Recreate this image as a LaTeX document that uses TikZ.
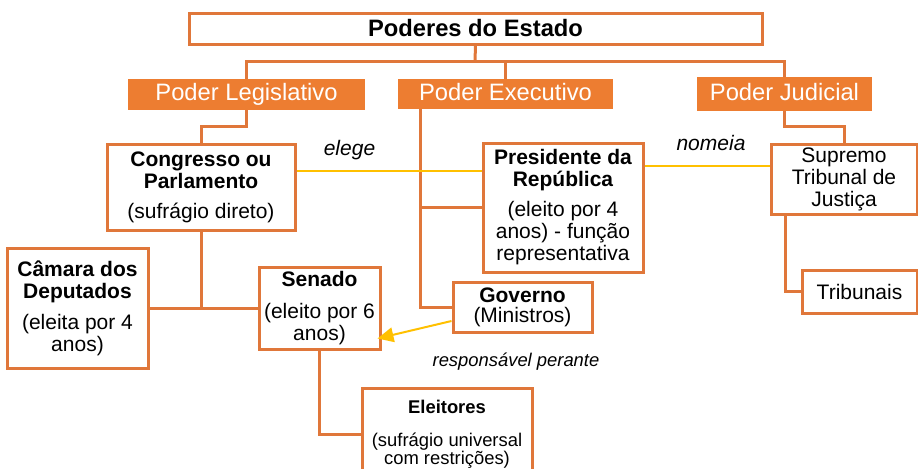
\documentclass[tikz,border=0pt]{standalone}
\usepackage{fontspec}
\setmainfont{Liberation Sans}
\usetikzlibrary{arrows.meta,calc}
\definecolor{ora}{HTML}{E0773A}
\definecolor{orafill}{HTML}{ED7D31}
\definecolor{yel}{HTML}{FFC000}
\newcommand{\mainsize}{\fontsize{15.75}{16.5}\selectfont}
\begin{document}
\begin{tikzpicture}[x=0.75pt,y=-0.75pt,
  box/.style={draw=ora, line width=2.25pt, fill=white, align=center, inner sep=0pt, font=\mainsize},
  power/.style={fill=orafill, text=white, inner sep=0pt, text height=13pt, text depth=3.7pt, font=\fontsize{17.8}{20}\selectfont},
  conn/.style={draw=ora, line width=2.25pt},
  yline/.style={draw=yel, line width=1.5pt},
  lbl/.style={font=\fontsize{15.75}{17}\selectfont\itshape, anchor=base, inner sep=0pt}]
\useasboundingbox (0,0) rectangle (918,468);
% nodes
\node[box, minimum width=429.75pt, minimum height=23.25pt, font=\fontsize{17.8}{20}\selectfont\bfseries] (title) at (475.5,28.5) {Poderes do Estado};
\node[power, minimum width=177.75pt, minimum height=23.25pt] (leg) at (246.5,94.5) {Poder Legislativo};
\node[power, minimum width=161.25pt, minimum height=22.5pt] (exe) at (505.5,94) {Poder Executivo};
\node[power, minimum width=131.25pt, minimum height=25.5pt] (jud) at (784.5,94) {Poder Judicial};
\node[box, minimum width=141pt, minimum height=64.5pt] (cong) at (201,187) {\textbf{Congresso ou}\\\textbf{Parlamento}\\[6pt](sufrágio direto)};
\node[box, minimum width=120pt, minimum height=96.75pt] (pres) at (563,207.5) {\textbf{Presidente da}\\\textbf{República}\\[6pt](eleito por 4\\anos) - função\\representativa};
\node[box, minimum width=109.5pt, minimum height=52.5pt] (sup) at (844,179) {Supremo\\Tribunal de\\Justiça};
\node[box, minimum width=86.25pt, minimum height=32.25pt] (trib) at (859.5,291.5) {Tribunais};
\node[box, minimum width=105.75pt, minimum height=90pt] (cam) at (77.5,308.5) {\textbf{Câmara dos}\\\textbf{Deputados}\\[6.75pt](eleita por 4\\anos)};
\node[box, minimum width=90.75pt, minimum height=61.5pt] (sen) at (319.5,308.5) {\textbf{Senado}\\[7.5pt](eleito por 6\\anos)};
\node[box, minimum width=104.25pt, minimum height=37.5pt] (gov) at (522.5,307) {\textbf{Governo}\\[-1.5pt](Ministros)};
\node[box, minimum width=127.5pt, minimum height=69pt, font=\fontsize{13.8}{13.5}\selectfont] (ele) at (447,434) {\textbf{Eleitores}\\[11pt](sufrágio universal\\com restrições)};
% connectors
\coordinate (bus) at (475,61);
\draw[conn] (title.south) -- (bus);
\draw[conn] (leg.north) |- (bus) -| (jud.north);
\draw[conn] (exe.north) -- (exe.north |- bus);
\draw[conn] (leg.south) -- ++(0,16) -| (cong.north);
\draw[conn] (cong.south) |- (cam.east);
\draw[conn] (cam.east) -- (sen.west);
\draw[conn] (sen.south) |- (ele.west);
\coordinate (exeb) at ($(exe.south west)+(23,0)$);
\draw[conn] (exeb) |- (pres.west);
\draw[conn] (exeb) |- (gov.west);
\draw[conn] (jud.south) -- ++(0,15) -| (sup.north);
\coordinate (supb) at ($(sup.south west)+(16,0)$);
\draw[conn] (supb) |- (trib.west);
\coordinate (eL) at ($(pres.north west)+(0,29)$);
\draw[yline] (eL) -- (cong.east |- eL);
\coordinate (nL) at ($(pres.north east)+(0,24)$);
\draw[yline] (nL) -- (sup.west |- nL);
\coordinate (aS) at ($(gov.west)+(0,14)$);
\coordinate (aE) at ($(sen.east)+(-4,30)$);
\draw[yline, -{Triangle[length=12pt,width=11pt]}] (aS) -- (aE);
% labels
\node[lbl] (elege) at (349.5,155) {elege};
\node[lbl] (nomeia) at (711,150) {nomeia};
\node[lbl, font=\fontsize{13.8}{15}\selectfont\itshape] (resp) at (516,366) {responsável perante};
\end{tikzpicture}
\end{document}
